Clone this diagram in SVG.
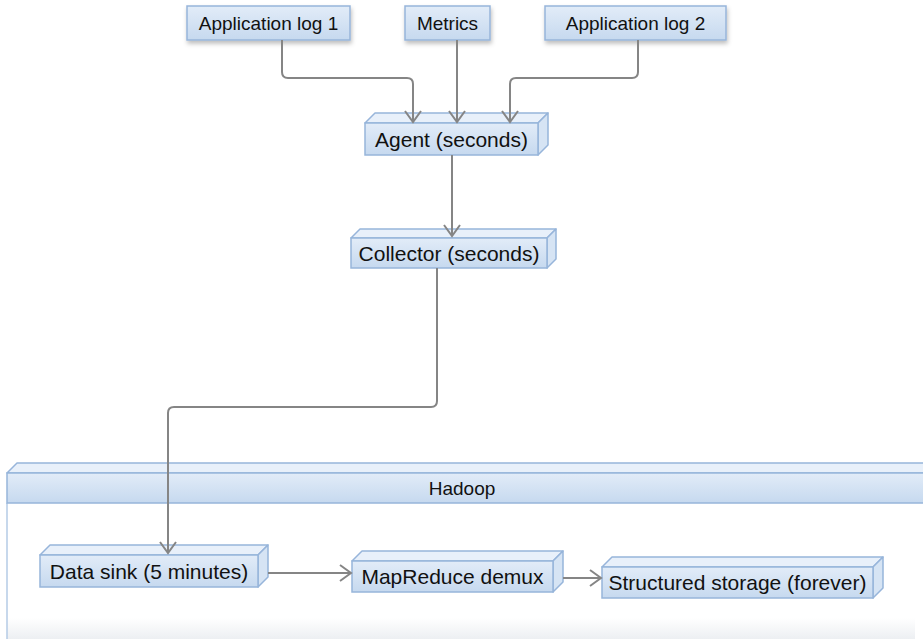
<svg xmlns="http://www.w3.org/2000/svg" width="923" height="639" viewBox="0 0 923 639">
<defs>
<linearGradient id="gFront" x1="0" y1="0" x2="0" y2="1">
<stop offset="0" stop-color="#e2ecf8"/>
<stop offset="1" stop-color="#c6d9ef"/>
</linearGradient>
<linearGradient id="gBody" x1="0" y1="0" x2="0" y2="1">
<stop offset="0" stop-color="#ffffff"/>
<stop offset="0.82" stop-color="#ffffff"/>
<stop offset="1" stop-color="#e9ecf0"/>
</linearGradient>
<filter id="shadow" x="-10%" y="-20%" width="130%" height="160%">
<feDropShadow dx="1" dy="3" stdDeviation="2" flood-color="#000" flood-opacity="0.25"/>
</filter>
<marker id="arrow" markerUnits="userSpaceOnUse" markerWidth="15" markerHeight="20" refX="13" refY="10" orient="auto">
<path d="M2,2 L13,10 L2,18" fill="none" stroke="#858585" stroke-width="2"/>
</marker>
</defs>
<style>
.front{fill:url(#gFront);stroke:#97b5da;stroke-width:1.5}
.top{fill:#e8f0fa;stroke:#97b5da;stroke-width:1.5;stroke-linejoin:round}
.side{fill:#d6e4f4;stroke:#97b5da;stroke-width:1.5;stroke-linejoin:round}
.lbl{font-family:"Liberation Sans",Arial,sans-serif;font-size:21px;fill:#111;text-anchor:middle}
.sm{font-size:19px}
.conn{fill:none;stroke:#858585;stroke-width:2;marker-end:url(#arrow)}
</style>
<rect width="923" height="639" fill="#ffffff"/>

<g id="hadoop">
<rect x="7" y="503" width="908" height="140" fill="url(#gBody)" stroke="none"/>
<line x1="7" y1="503" x2="7" y2="639" stroke="#b5cbe6" stroke-width="1.5"/>
<polygon class="top" points="7,473 17,463 935,463 925,473"/>
<rect class="front" x="7" y="473" width="925" height="30"/>
<text class="lbl sm" x="462" y="495">Hadoop</text>
</g>

<g id="applog1">
<rect class="front" x="187" y="6" width="163" height="34" filter="url(#shadow)"/>
<text class="lbl sm" x="268.5" y="30">Application log 1</text>
</g>
<g id="metrics">
<rect class="front" x="405" y="6" width="85" height="34" filter="url(#shadow)"/>
<text class="lbl sm" x="447.5" y="30">Metrics</text>
</g>
<g id="applog2">
<rect class="front" x="545" y="6" width="181" height="34" filter="url(#shadow)"/>
<text class="lbl sm" x="635.5" y="30">Application log 2</text>
</g>

<g id="agent">
<polygon class="top" points="365,123 375,113 548,113 538,123"/>
<polygon class="side" points="538,123 548,113 548,145 538,155"/>
<rect class="front" x="365" y="123" width="173" height="32"/>
<text class="lbl" x="451.5" y="147">Agent (seconds)</text>
</g>

<g id="collector">
<polygon class="top" points="351,238 360,229 556,229 547,238"/>
<polygon class="side" points="547,238 556,229 556,259 547,268"/>
<rect class="front" x="351" y="238" width="196" height="30"/>
<text class="lbl" x="449" y="261">Collector (seconds)</text>
</g>

<g id="datasink">
<polygon class="top" points="40,555 50,545 268,545 258,555"/>
<polygon class="side" points="258,555 268,545 268,577 258,587"/>
<rect class="front" x="40" y="555" width="218" height="32"/>
<text class="lbl" x="149" y="579">Data sink (5 minutes)</text>
</g>

<g id="mapreduce">
<polygon class="top" points="352,561 362,551 563,551 553,561"/>
<polygon class="side" points="553,561 563,551 563,582 553,592"/>
<rect class="front" x="352" y="561" width="201" height="31"/>
<text class="lbl" x="452.5" y="584">MapReduce demux</text>
</g>

<g id="structured">
<polygon class="top" points="602,567 612,557 883,557 873,567"/>
<polygon class="side" points="873,567 883,557 883,588 873,598"/>
<rect class="front" x="602" y="567" width="271" height="31"/>
<text class="lbl" x="737.5" y="590">Structured storage (forever)</text>
</g>

<g id="connectors">
<path class="conn" d="M282,40 V72 Q282,78 288,78 H407 Q413,78 413,84 V122"/>
<path class="conn" d="M457,40 V122"/>
<path class="conn" d="M638,40 V72 Q638,78 632,78 H516 Q510,78 510,84 V122"/>
<path class="conn" d="M452,155 V236"/>
<path class="conn" d="M437,268 V401 Q437,407 431,407 H174 Q168,407 168,413 V553"/>
<path class="conn" d="M268,573 H351"/>
<path class="conn" d="M563,578 H601"/>
</g>
</svg>
